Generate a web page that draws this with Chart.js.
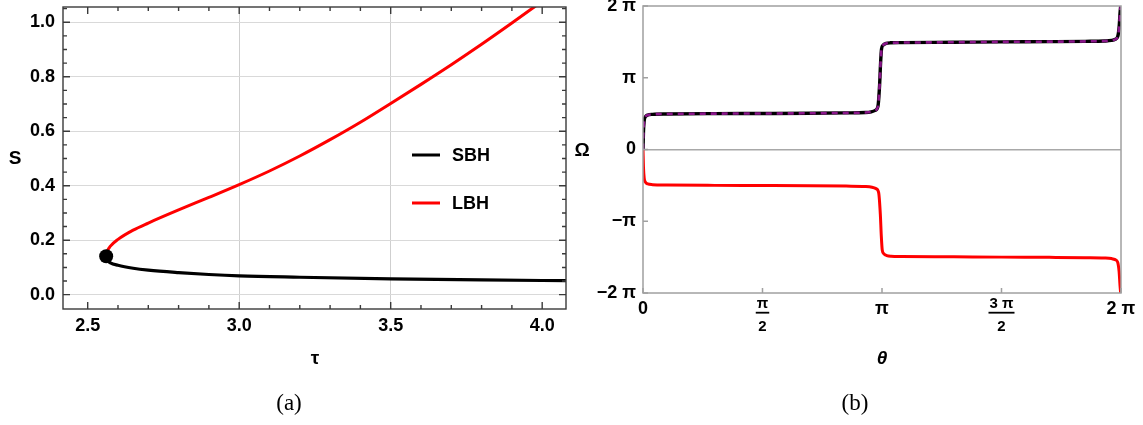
<!DOCTYPE html>
<html>
<head>
<meta charset="utf-8">
<script src="https://cdn.jsdelivr.net/npm/chart.js@4.4.1/dist/chart.umd.min.js"></script>
<style>
    html, body { margin: 0; padding: 0; background: #fff; }
    #page { position: relative; width: 1143px; height: 425px; overflow: hidden; background: #fff; }
    .box  { position: absolute; top: 0; height: 370px; }
    .lbl  { position: absolute; transform: translate(-50%, -50%); font-family: "Liberation Sans", Arial, sans-serif;
            font-weight: bold; font-size: 19px; color: #000; white-space: nowrap; }
    .cap  { position: absolute; transform: translate(-50%, -50%); font-family: "Liberation Serif", serif;
            font-size: 23px; color: #000; white-space: nowrap; }
</style>
</head>
<body>
<div id="page">
    <div class="box" style="left:0; width:580px;"><canvas id="chartA"></canvas></div>
    <div class="box" style="left:580px; width:563px;"><canvas id="chartB"></canvas></div>

    <div class="lbl" style="left:15px;  top:158px;">S</div>
    <div class="lbl" style="left:315px; top:358px;">τ</div>
    <div class="lbl" style="left:582px; top:150px;">Ω</div>
    <div class="lbl" style="left:882px; top:358px; font-style:italic;">θ</div>
    <div class="cap" style="left:289px; top:403px;">(a)</div>
    <div class="cap" style="left:855px; top:403px;">(b)</div>
</div>

<script>
// ── Panel (a): S vs τ ──
const sbhTau = [2.561, 2.565, 2.575, 2.6, 2.65, 2.7, 2.8, 2.9, 3.0, 3.2, 3.5, 3.8, 4.1];
const sbhS   = [0.141, 0.126, 0.117, 0.108, 0.097, 0.090, 0.081, 0.074, 0.069, 0.064, 0.058, 0.054, 0.051];

const lbhTau = [2.561, 2.565, 2.575, 2.6, 2.65, 2.7, 2.8, 2.9, 3.0, 3.1, 3.2, 3.3, 3.4, 3.5, 3.6, 3.7, 3.8, 3.9, 4.0];
const lbhS   = [0.141, 0.160, 0.178, 0.203, 0.237, 0.263, 0.311, 0.357, 0.404, 0.454, 0.509, 0.569, 0.633, 0.702, 0.772, 0.844, 0.919, 0.997, 1.077];

const critTau = [2.561];
const critS   = [0.141];

const tauMajor  = [2.5, 3.0, 3.5, 4.0];
const tauLabels = ['2.5', '3.0', '3.5', '4.0'];
const tauMinor  = [2.6, 2.7, 2.8, 2.9, 3.1, 3.2, 3.3, 3.4, 3.6, 3.7, 3.8, 3.9];
const tauGrid   = [3.0, 3.5];

const sMajor  = [0.0, 0.2, 0.4, 0.6, 0.8, 1.0];
const sLabels = ['0.0', '0.2', '0.4', '0.6', '0.8', '1.0'];
const sMinor  = [0.05, 0.1, 0.15, 0.25, 0.3, 0.35, 0.45, 0.5, 0.55, 0.65, 0.7, 0.75, 0.85, 0.9, 0.95, 1.05];

const legendNames = ['SBH', 'LBH'];

// ── Panel (b): Ω vs θ (both in units of π) ──
const thetaUpper = [0, 0.002, 0.005, 0.01, 0.02, 0.04, 0.1, 0.3, 0.5, 0.7, 0.85, 0.93, 0.955, 0.972, 0.983,
                    0.99, 0.994, 0.998, 1.005, 1.017, 1.035, 1.08, 1.3, 1.5, 1.7, 1.85, 1.93, 1.96, 1.976,
                    1.986, 1.992, 1.996, 2.0];
const omegaUpper = [0, 0.25, 0.4, 0.455, 0.48, 0.49, 0.495, 0.5, 0.502, 0.505, 0.51, 0.515, 0.525, 0.545, 0.6,
                    0.9, 1.2, 1.4, 1.455, 1.478, 1.487, 1.49, 1.495, 1.5, 1.503, 1.507, 1.512, 1.52, 1.535,
                    1.57, 1.7, 1.9, 2.05];

const thetaLower = [0, 0.002, 0.005, 0.01, 0.02, 0.04, 0.1, 0.3, 0.5, 0.7, 0.85, 0.93, 0.958, 0.975, 0.986,
                    0.993, 0.997, 1.001, 1.008, 1.02, 1.038, 1.08, 1.3, 1.5, 1.7, 1.85, 1.93, 1.96, 1.976,
                    1.986, 1.992, 1.996, 2.0];
const omegaLower = [0, -0.25, -0.4, -0.455, -0.48, -0.49, -0.495, -0.5, -0.502, -0.505, -0.51, -0.515, -0.525, -0.545, -0.6,
                    -0.9, -1.2, -1.4, -1.455, -1.478, -1.487, -1.49, -1.495, -1.5, -1.503, -1.507, -1.512, -1.52, -1.535,
                    -1.57, -1.7, -1.9, -2.05];

const thetaTicks  = [0, 0.5, 1, 1.5, 2];
const thetaLabels = ['0', ['π', '2'], 'π', ['3 π', '2'], '2 π'];
const omegaTicks  = [-2, -1, 0, 1, 2];
const omegaLabels = ['−2 π', '−π', '0', 'π', '2 π'];

// ── Shared styling ──
const FONT = '"Liberation Sans", Arial, sans-serif';
const tickFont = { family: FONT, size: 18, weight: 'bold' };

const toPoints = (xs, ys) => xs.map((x, i) => ({ x, y: ys[i] }));
const setTicks = (vals) => (scale) => { scale.ticks = vals.slice().sort((a, b) => a - b).map(v => ({ value: v })); };
const noPad = (size, dim) => (scale) => {
    scale[dim] = size;
    scale.paddingTop = scale.paddingBottom = scale.paddingLeft = scale.paddingRight = 0;
};

// ═══════════════════════════════════════════
//  PANEL (a)
// ═══════════════════════════════════════════
const frameA = {
    id: 'frameA',
    afterDraw(chart) {
        const { ctx, chartArea: a, scales: { x, y } } = chart;
        ctx.save();
        ctx.strokeStyle = '#3a3a3a';
        ctx.lineWidth = 1.4;
        ctx.beginPath();
        x.ticks.forEach(t => {
            const px = x.getPixelForValue(t.value);
            const len = tauMajor.includes(t.value) ? 7 : 4;
            ctx.moveTo(px, a.bottom); ctx.lineTo(px, a.bottom - len);
            ctx.moveTo(px, a.top);    ctx.lineTo(px, a.top + len);
        });
        y.ticks.forEach(t => {
            const py = y.getPixelForValue(t.value);
            const len = sMajor.includes(t.value) ? 7 : 4;
            ctx.moveTo(a.left, py);  ctx.lineTo(a.left + len, py);
            ctx.moveTo(a.right, py); ctx.lineTo(a.right - len, py);
        });
        ctx.stroke();
        ctx.strokeRect(a.left, a.top, a.right - a.left, a.bottom - a.top);

        // legend inside the plot
        const sets = [chart.data.datasets[1], chart.data.datasets[2]];
        const rows = [155, 203];
        ctx.font = 'bold 18px ' + FONT;
        ctx.textBaseline = 'middle';
        ctx.fillStyle = '#000';
        sets.forEach((ds, i) => {
            ctx.strokeStyle = ds.borderColor;
            ctx.lineWidth = 3;
            ctx.beginPath();
            ctx.moveTo(412, rows[i]); ctx.lineTo(440, rows[i]);
            ctx.stroke();
            ctx.fillText(legendNames[i], 452, rows[i] + 1);
        });
        ctx.restore();
    }
};

new Chart(document.getElementById('chartA'), {
    type: 'line',
    data: {
        datasets: [
            {
                data: toPoints(critTau, critS),
                showLine: false,
                pointRadius: 7,
                pointBackgroundColor: '#000',
                pointBorderWidth: 0,
            },
            {
                label: legendNames[0],
                data: toPoints(sbhTau, sbhS),
                borderColor: '#000',
                borderWidth: 3.2,
                pointRadius: 0,
                cubicInterpolationMode: 'monotone',
            },
            {
                label: legendNames[1],
                data: toPoints(lbhTau, lbhS),
                borderColor: '#ff0000',
                borderWidth: 3,
                pointRadius: 0,
                cubicInterpolationMode: 'monotone',
            },
        ],
    },
    options: {
        responsive: true,
        maintainAspectRatio: false,
        devicePixelRatio: 1,
        animation: false,
        events: [],
        layout: { padding: { top: 7, right: 14, left: 0, bottom: 0 } },
        plugins: { legend: { display: false }, tooltip: { enabled: false } },
        scales: {
            x: {
                type: 'linear',
                min: 2.4185,
                max: 4.0786,
                afterBuildTicks: setTicks([...tauMajor, ...tauMinor]),
                afterFit: noPad(61, 'height'),
                border: { display: false },
                grid: {
                    drawTicks: false,
                    lineWidth: 1,
                    color: c => tauGrid.includes(c.tick && c.tick.value) ? '#cfcfcf' : 'rgba(0,0,0,0)',
                },
                ticks: {
                    autoSkip: false,
                    maxRotation: 0,
                    padding: 6,
                    color: '#000',
                    font: tickFont,
                    callback: v => { const i = tauMajor.indexOf(v); return i >= 0 ? tauLabels[i] : ''; },
                },
            },
            y: {
                type: 'linear',
                min: -0.0526,
                max: 1.056,
                afterBuildTicks: setTicks([...sMajor, ...sMinor]),
                afterFit: noPad(63, 'width'),
                border: { display: false },
                grid: {
                    drawTicks: false,
                    lineWidth: 1,
                    color: c => sMajor.includes(c.tick && c.tick.value) ? '#d9d9d9' : 'rgba(0,0,0,0)',
                },
                ticks: {
                    autoSkip: false,
                    padding: 8,
                    color: '#000',
                    font: tickFont,
                    callback: v => { const i = sMajor.indexOf(v); return i >= 0 ? sLabels[i] : ''; },
                },
            },
        },
    },
    plugins: [frameA],
});

// ═══════════════════════════════════════════
//  PANEL (b)
// ═══════════════════════════════════════════
const frameB = {
    id: 'frameB',
    afterDraw(chart) {
        const { ctx, chartArea: a, scales: { x, y } } = chart;
        ctx.save();
        ctx.strokeStyle = '#a0a0a0';
        ctx.lineWidth = 1.5;
        ctx.beginPath();
        x.ticks.forEach(t => {
            const px = x.getPixelForValue(t.value);
            ctx.moveTo(px, a.bottom); ctx.lineTo(px, a.bottom - 5);
        });
        y.ticks.forEach(t => {
            const py = y.getPixelForValue(t.value);
            ctx.moveTo(a.left, py); ctx.lineTo(a.left + 5, py);
        });
        ctx.stroke();
        ctx.strokeRect(a.left, a.top, a.right - a.left, a.bottom - a.top);

        // fraction bars under the stacked tick labels
        ctx.fillStyle = '#000';
        ctx.font = 'bold 15px ' + FONT;
        thetaTicks.forEach((v, i) => {
            const lab = thetaLabels[i];
            if (!Array.isArray(lab)) return;
            const w = ctx.measureText(lab[0]).width + 2;
            const px = x.getPixelForValue(v);
            ctx.fillRect(px - w / 2, a.bottom + 18.8, w, 1.8);
        });
        ctx.restore();
    }
};

new Chart(document.getElementById('chartB'), {
    type: 'line',
    data: {
        datasets: [
            {
                data: toPoints(thetaUpper, omegaUpper),
                borderColor: '#8a168a',
                borderWidth: 2.6,
                borderDash: [6, 5],
                pointRadius: 0,
                cubicInterpolationMode: 'monotone',
            },
            {
                data: toPoints(thetaUpper, omegaUpper),
                borderColor: '#000',
                borderWidth: 3.4,
                pointRadius: 0,
                cubicInterpolationMode: 'monotone',
            },
            {
                data: toPoints(thetaLower, omegaLower),
                borderColor: '#ff0000',
                borderWidth: 3,
                pointRadius: 0,
                cubicInterpolationMode: 'monotone',
            },
        ],
    },
    options: {
        responsive: true,
        maintainAspectRatio: false,
        devicePixelRatio: 1,
        animation: false,
        events: [],
        layout: { padding: { top: 6, right: 22, left: 0, bottom: 0 } },
        plugins: { legend: { display: false }, tooltip: { enabled: false } },
        scales: {
            x: {
                type: 'linear',
                min: 0,
                max: 2,
                afterBuildTicks: setTicks(thetaTicks),
                afterFit: noPad(77, 'height'),
                border: { display: false },
                grid: { display: false, drawTicks: false },
                ticks: {
                    autoSkip: false,
                    maxRotation: 0,
                    padding: 0,
                    color: '#000',
                    font: c => Array.isArray(thetaLabels[c.index])
                        ? { family: FONT, size: 15, weight: 'bold', lineHeight: 1.5 }
                        : { family: FONT, size: 18, weight: 'bold', lineHeight: 1.81 },
                    callback: (v, i) => thetaLabels[i],
                },
            },
            y: {
                type: 'linear',
                min: -2,
                max: 2,
                afterBuildTicks: setTicks(omegaTicks),
                afterFit: noPad(63, 'width'),
                border: { display: false },
                grid: {
                    drawTicks: false,
                    lineWidth: 1.5,
                    color: c => (c.tick && c.tick.value === 0) ? '#a8a8a8' : 'rgba(0,0,0,0)',
                },
                ticks: {
                    autoSkip: false,
                    padding: 7,
                    color: '#000',
                    font: tickFont,
                    callback: (v, i) => omegaLabels[i],
                },
            },
        },
    },
    plugins: [frameB],
});
</script>
</body>
</html>
